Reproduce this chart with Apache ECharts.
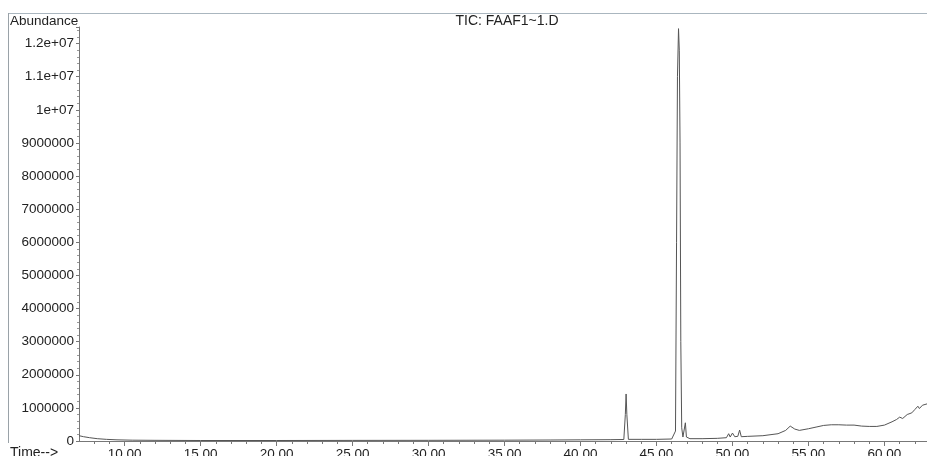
<!DOCTYPE html>
<html>
<head>
<meta charset="utf-8">
<script src="https://cdn.jsdelivr.net/npm/echarts@6/dist/echarts.min.js"></script>
<style>
html,body{margin:0;padding:0;background:#fff;}
#c{width:927px;height:456px;}
</style>
</head>
<body>
<div id="c"></div>
<script>
// Retention time (min)
var times = [7.0,7.3,7.7,8.2,8.8,9.5,10.5,12,15,20,25,30,35,38,40,42,42.85,42.95,43.0,43.05,43.15,44,45,46.0,46.25,46.32,46.38,46.45,46.5,46.55,46.6,46.66,46.74,46.84,46.9,46.97,47.2,48,49,49.6,49.75,49.85,50.0,50.15,50.35,50.47,50.58,51,52,53,53.5,53.8,54.1,54.4,55,55.5,56,56.5,57,57.5,58,58.5,59,59.5,60,60.5,60.8,61.0,61.2,61.5,61.8,62.0,62.2,62.3,62.5,62.6,62.8];
// Abundance (counts)
var abundance = [160000,130000,100000,70000,50000,35000,25000,20000,15000,15000,18000,20000,25000,30000,35000,40000,45000,800000,1420000,800000,50000,50000,50000,60000,300000,6000000,11000000,12450000,11800000,9000000,3000000,400000,120000,150000,550000,120000,70000,70000,80000,100000,220000,120000,240000,130000,140000,330000,130000,140000,160000,220000,320000,450000,360000,320000,370000,420000,470000,490000,490000,480000,480000,450000,440000,440000,480000,580000,650000,720000,680000,800000,850000,950000,1050000,980000,1080000,1020000,1120000];
var xMajorTicks = [10,15,20,25,30,35,40,45,50,55,60];
var xLabels = ['10.00','15.00','20.00','25.00','30.00','35.00','40.00','45.00','50.00','55.00','60.00'];
var xMinorTicks = [8,9,11,12,13,14,16,17,18,19,21,22,23,24,26,27,28,29,31,32,33,34,36,37,38,39,41,42,43,44,46,47,48,49,51,52,53,54,56,57,58,59,61,62];
var yLabels = ['0','1000000','2000000','3000000','4000000','5000000','6000000','7000000','8000000','9000000','1e+07','1.1e+07','1.2e+07'];
var title = 'TIC: FAAF1~1.D';

var pts = times.map(function(t,i){return [t, abundance[i]];});
var font = '"Liberation Sans", Arial, sans-serif';
var chart = echarts.init(document.getElementById('c'), null, {renderer:'canvas'});
chart.setOption({
  animation:false,
  backgroundColor:'#fff',
  title:{text:title,left:507,top:14,padding:0,textAlign:'center',textStyle:{fontFamily:font,fontSize:14,fontWeight:'normal',color:'#222'}},
  graphic:[
    {type:'line',shape:{x1:8,y1:13.5,x2:927,y2:13.5},style:{stroke:'#aab6bf',lineWidth:1},silent:true},
    {type:'line',shape:{x1:8.5,y1:13,x2:8.5,y2:443},style:{stroke:'#9aa2a8',lineWidth:1},silent:true},
    {type:'text',left:10,top:14,style:{text:'Abundance',font:'13.5px '+font,fill:'#222'}},
    {type:'text',left:10,top:446,style:{text:'Time-->',font:'14px '+font,fill:'#222'}}
  ],
  grid:{left:79,right:0,top:27,bottom:15,containLabel:false,outerBoundsMode:'none'},
  xAxis:[{
    type:'value',min:7,max:62.8,
    axisLine:{show:true,lineStyle:{color:'#777',width:1}},
    axisTick:{show:true,length:5,customValues:xMajorTicks,lineStyle:{color:'#777'}},
    axisLabel:{show:true,customValues:xMajorTicks,margin:6,fontFamily:font,fontSize:13.5,color:'#222',
      formatter:function(v){var i=xMajorTicks.indexOf(Math.round(v));return i>=0?xLabels[i]:'';}},
    splitLine:{show:false}
  },{
    type:'value',min:7,max:62.8,position:'bottom',
    axisLine:{show:false},
    axisTick:{show:true,length:3,customValues:xMinorTicks,lineStyle:{color:'#777'}},
    axisLabel:{show:false},
    splitLine:{show:false}
  }],
  yAxis:{
    type:'value',min:0,max:12500000,interval:1000000,
    axisLine:{show:true,lineStyle:{color:'#777',width:1}},
    axisTick:{show:true,length:3,lineStyle:{color:'#777'}},
    minorTick:{show:true,splitNumber:5,length:2,lineStyle:{color:'#999'}},
    axisLabel:{show:true,showMaxLabel:false,margin:5,fontFamily:font,fontSize:13.5,color:'#222',
      formatter:function(v){var i=Math.round(v/1000000);return (Math.abs(v-i*1000000)<1&&yLabels[i])?yLabels[i]:'';}},
    splitLine:{show:false}
  },
  series:[{
    type:'line',data:pts,xAxisIndex:0,symbol:'none',smooth:false,
    lineStyle:{color:'#555',width:1},
    emphasis:{disabled:true}
  }]
});
</script>
</body>
</html>
